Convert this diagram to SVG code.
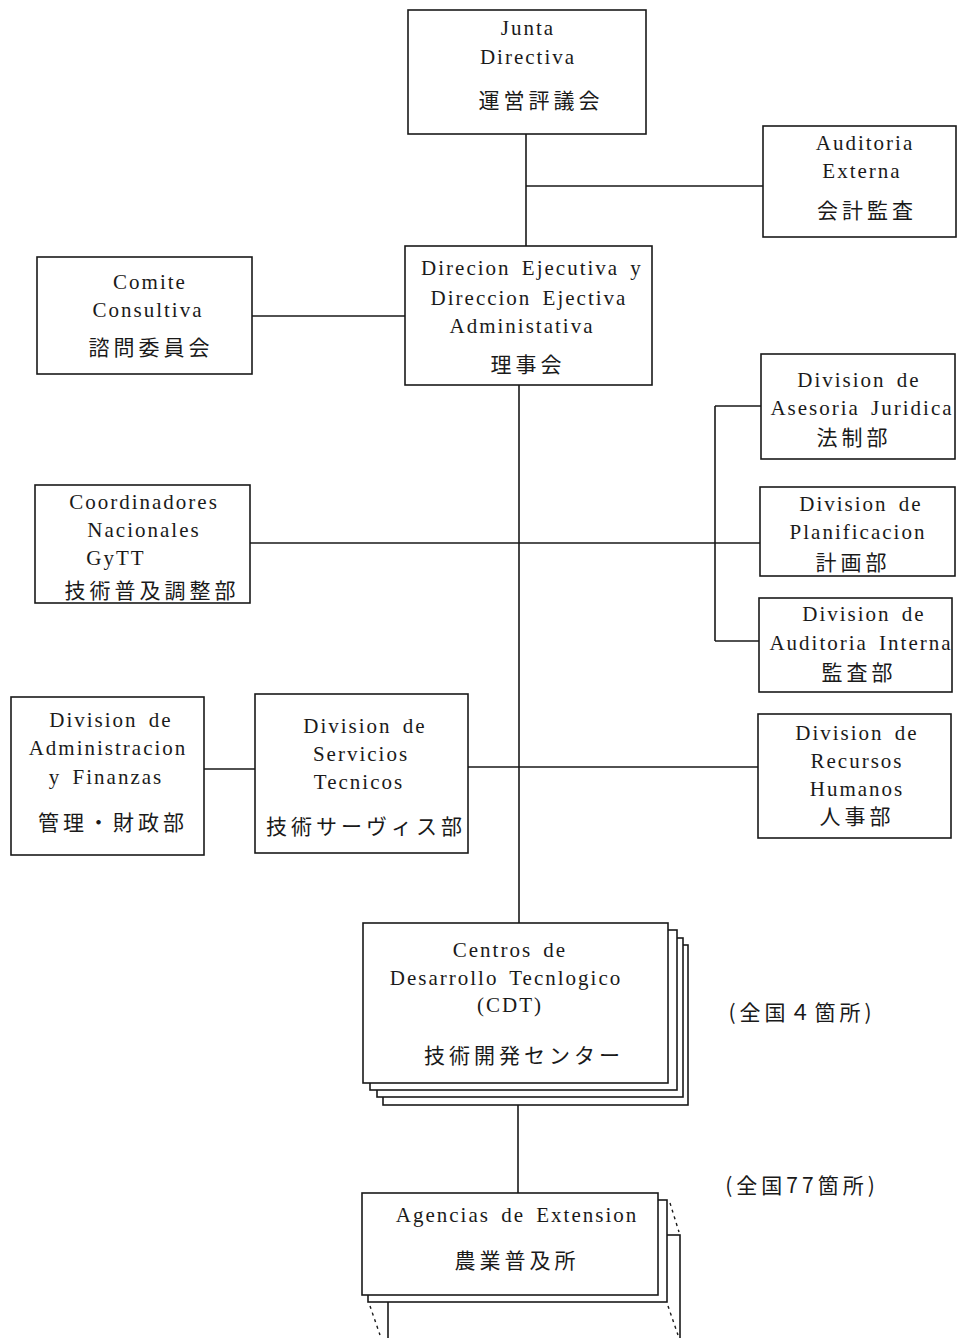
<svg xmlns="http://www.w3.org/2000/svg" width="959" height="1338" viewBox="0 0 959 1338">
<style>
.b{fill:#fff;stroke:#1a1a1a;stroke-width:1.6}
.c{fill:none;stroke:#1a1a1a;stroke-width:1.6}
.d{fill:none;stroke:#1a1a1a;stroke-width:1.4;stroke-dasharray:3 4}
.t{font-family:"Liberation Serif","DejaVu Serif",serif;font-size:21px;letter-spacing:2px;word-spacing:4px;fill:#1a1a1a;text-anchor:middle}
.j{font-family:"Noto Sans CJK JP",sans-serif;font-size:21px;letter-spacing:4px;fill:#1a1a1a;text-anchor:middle}
</style>
<rect width="959" height="1338" fill="#fff"/>
<g id="connectors">
<path class="c" d="M526 134V246M526 186H763M252 316H405M519 385V925M250 543H760M715 406V641M715 406H761M715 641H759M204 769H255M468 767H758M518 1105V1193"/>
</g>
<g id="junta">
<rect class="b" x="408" y="10" width="238" height="124"/>
<text class="t" x="528" y="35">Junta</text>
<text class="t" x="528" y="64">Directiva</text>
<text class="j" x="541" y="108">運営評議会</text>
</g>
<g id="auditoria-externa">
<rect class="b" x="763" y="126" width="193" height="111"/>
<text class="t" x="865" y="150">Auditoria</text>
<text class="t" x="862" y="178">Externa</text>
<text class="j" x="867" y="218">会計監査</text>
</g>
<g id="direccion">
<rect class="b" x="405" y="246" width="247" height="139"/>
<text class="t" x="532" y="275">Direcion Ejecutiva y</text>
<text class="t" x="529" y="305">Direccion Ejectiva</text>
<text class="t" x="522" y="333">Administativa</text>
<text class="j" x="528" y="372">理事会</text>
</g>
<g id="comite">
<rect class="b" x="37" y="257" width="215" height="117"/>
<text class="t" x="150" y="289">Comite</text>
<text class="t" x="148" y="317">Consultiva</text>
<text class="j" x="151" y="355">諮問委員会</text>
</g>
<g id="asesoria">
<rect class="b" x="761" y="354" width="194" height="105"/>
<text class="t" x="859" y="387">Division de</text>
<text class="t" x="862" y="415">Asesoria Juridica</text>
<text class="j" x="854" y="445">法制部</text>
</g>
<g id="planificacion">
<rect class="b" x="760" y="487" width="195" height="89"/>
<text class="t" x="861" y="511">Division de</text>
<text class="t" x="858" y="539">Planificacion</text>
<text class="j" x="853" y="570">計画部</text>
</g>
<g id="auditoria-interna">
<rect class="b" x="759" y="598" width="193" height="94"/>
<text class="t" x="864" y="621">Division de</text>
<text class="t" x="861" y="650">Auditoria Interna</text>
<text class="j" x="859" y="680">監査部</text>
</g>
<g id="coordinadores">
<rect class="b" x="35" y="485" width="215" height="118"/>
<text class="t" x="144" y="509">Coordinadores</text>
<text class="t" x="144" y="537">Nacionales</text>
<text class="t" x="116" y="565">GyTT</text>
<text class="j" x="152" y="598">技術普及調整部</text>
</g>
<g id="administracion">
<rect class="b" x="11" y="697" width="193" height="158"/>
<text class="t" x="111" y="727">Division de</text>
<text class="t" x="108" y="755">Administracion</text>
<text class="t" x="106" y="784">y Finanzas</text>
<text class="j" x="113" y="830">管理・財政部</text>
</g>
<g id="servicios">
<rect class="b" x="255" y="694" width="213" height="159"/>
<text class="t" x="365" y="733">Division de</text>
<text class="t" x="361" y="761">Servicios</text>
<text class="t" x="359" y="789">Tecnicos</text>
<text class="j" x="366" y="834">技術サーヴィス部</text>
</g>
<g id="recursos">
<rect class="b" x="758" y="714" width="193" height="124"/>
<text class="t" x="857" y="740">Division de</text>
<text class="t" x="857" y="768">Recursos</text>
<text class="t" x="857" y="796">Humanos</text>
<text class="j" x="857" y="824">人事部</text>
</g>
<g id="centros">
<rect class="b" x="383" y="945" width="305" height="160"/>
<rect class="b" x="377" y="938" width="306" height="159"/>
<rect class="b" x="370" y="930" width="307" height="160"/>
<rect class="b" x="363" y="923" width="305" height="160"/>
<text class="t" x="510" y="957">Centros de</text>
<text class="t" x="506" y="985">Desarrollo Tecnlogico</text>
<text class="t" x="510" y="1012">(CDT)</text>
<text class="j" x="524" y="1063">技術開発センター</text>
</g>
<text class="j" x="802" y="1020">(全国４箇所)</text>
<g id="agencias">
<rect class="b" x="388" y="1235" width="292" height="120"/>
<rect class="b" x="368" y="1200" width="299" height="102"/>
<rect class="b" x="362" y="1193" width="296" height="102"/>
<path class="d" d="M670 1203L679 1232M370 1306L380 1335M668 1306L678 1335"/>
<text class="t" x="517" y="1222">Agencias de Extension</text>
<text class="j" x="517" y="1268">農業普及所</text>
</g>
<text class="j" x="802" y="1193">(全国77箇所)</text>
</svg>
